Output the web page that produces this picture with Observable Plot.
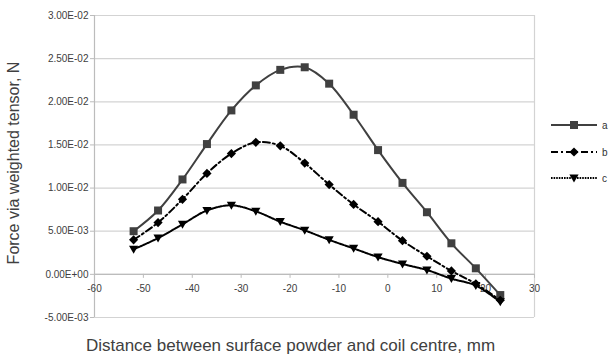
<!DOCTYPE html>
<html><head><meta charset="utf-8">
<script src="https://cdn.jsdelivr.net/npm/d3@7"></script>
<script src="https://cdn.jsdelivr.net/npm/@observablehq/plot@0.6"></script>
<style>
html,body{margin:0;padding:0;background:#fff;}
#chart{position:relative;width:612px;height:358px;font-family:"Liberation Sans",Arial,sans-serif;}
#legend{position:absolute;left:0;top:0;}
</style></head><body><div id="chart"></div>
<script>
const xValues = [-52,-47,-42,-37,-32,-27,-22,-17,-12,-7,-2,3,8,13,18,23];
const seriesA = [5.0e-3,7.4e-3,1.10e-2,1.51e-2,1.90e-2,2.19e-2,2.37e-2,2.40e-2,2.21e-2,1.85e-2,1.44e-2,1.06e-2,7.2e-3,3.6e-3,7e-4,-2.4e-3];
const seriesB = [4.0e-3,6.0e-3,8.7e-3,1.17e-2,1.40e-2,1.53e-2,1.49e-2,1.29e-2,1.04e-2,8.1e-3,6.1e-3,3.9e-3,2.1e-3,4e-4,-1.1e-3,-3.0e-3];
const seriesC = [2.9e-3,4.2e-3,5.8e-3,7.4e-3,8.0e-3,7.3e-3,6.1e-3,5.1e-3,4.0e-3,3.0e-3,2.0e-3,1.2e-3,5e-4,-5e-4,-1.3e-3,-3.2e-3];
const seriesNames = ["a","b","c"];
const xTicks = [-60,-50,-40,-30,-20,-10,0,10,20,30];
const yTicks = [-0.005,0,0.005,0.01,0.015,0.02,0.025,0.03];
const yTickLabels = ["-5.00E-03","0.00E+00","5.00E-03","1.00E-02","1.50E-02","2.00E-02","2.50E-02","3.00E-02"];
const xLabel = "Distance between surface powder and coil centre, mm";
const yLabel = "Force via weighted tensor, N";

const squareSym = {draw(c){ c.rect(-4,-4,8,8); }};
const diamondSym = {draw(c){ c.moveTo(0,-4.6); c.lineTo(4.6,0); c.lineTo(0,4.6); c.lineTo(-4.6,0); c.closePath(); }};
const triDownSym = {draw(c){ c.moveTo(-4.6,-3.6); c.lineTo(4.6,-3.6); c.lineTo(0,4.4); c.closePath(); }};

const styles = {
  a: {stroke:"#404040", dash:null, width:2, symbol:squareSym, fill:"#404040"},
  b: {stroke:"#000", dash:"7,3,2,3", width:2, symbol:diamondSym, fill:"#000"},
  c: {stroke:"#000", dash:"1.6,1", width:2, symbol:triDownSym, fill:"#000"}
};
const allSeries = [seriesA, seriesB, seriesC];
const rows = seriesNames.flatMap((s, k) => xValues.map((x, i) => ({series: s, x, y: allSeries[k][i]})));

const gridColor = "#d3d3d3";
const axisColor = "#bcbcbc";
const marks = [
  Plot.ruleY(yTicks, {stroke: gridColor, strokeWidth: 1.2}),
  Plot.ruleX([xTicks[xTicks.length-1]], {stroke: gridColor, strokeWidth: 1.2}),
  Plot.ruleX([xTicks[0]], {stroke: axisColor, strokeWidth: 1.2}),
  Plot.ruleY([0], {stroke: axisColor, strokeWidth: 1.2}),
  Plot.ruleX(xTicks, {y1: 0, y2: 0, insetBottom: -4, stroke: axisColor}),
  Plot.text(xTicks, {x: d => d, y: 0, text: d => String(d), dy: 14, fontSize: 10, fill: "#404040"}),
  Plot.axisY({ticks: yTicks, tickFormat: d => yTickLabels[yTicks.indexOf(d)], tickSize: 4, tickPadding: 2, fontSize: 10, stroke: axisColor, fill: "#404040", label: null}),
  Plot.axisX({ticks: [], label: null, tickSize: 0}),
];
for (const s of seriesNames) {
  const st = styles[s];
  const data = rows.filter(d => d.series === s);
  marks.push(Plot.line(data, {x: "x", y: "y", curve: "catmull-rom", stroke: st.stroke, strokeWidth: st.width, strokeDasharray: st.dash}));
}
for (const s of seriesNames) {
  const st = styles[s];
  const data = rows.filter(d => d.series === s);
  marks.push(Plot.dot(data, {x: "x", y: "y", symbol: st.symbol, fill: st.fill, stroke: "none", r: 4}));
}
marks.push(Plot.text([yLabel], {frameAnchor: "left", textAnchor: "middle", text: d => d, rotate: -90, dx: -81, dy: -3.5, fontSize: 16, fill: "#404040"}));
marks.push(Plot.text([xLabel], {frameAnchor: "bottom", text: d => d, dx: -24, dy: 28, lineAnchor: "middle", fontSize: 17, fill: "#404040"}));

const chart = Plot.plot({
  width: 612, height: 358,
  marginLeft: 94, marginRight: 78, marginTop: 15, marginBottom: 41,
  style: {fontFamily: '"Liberation Sans", Arial, sans-serif', background: "#fff"},
  x: {domain: [xTicks[0], xTicks[xTicks.length-1]]},
  y: {domain: [yTicks[0], yTicks[yTicks.length-1]]},
  marks
});
const root = document.getElementById("chart");
root.appendChild(chart);

// Legend
const lg = d3.select(root).append("svg").attr("id","legend").attr("width",612).attr("height",358);
const legendY = {a:125, b:152, c:178};
seriesNames.forEach(s => {
  const st = styles[s];
  const y = legendY[s];
  lg.append("line").attr("x1",551).attr("x2",597).attr("y1",y).attr("y2",y)
    .attr("stroke",st.stroke).attr("stroke-width",st.width).attr("stroke-dasharray",st.dash);
  const p = d3.path(); st.symbol.draw(p);
  lg.append("path").attr("d",p.toString()).attr("transform",`translate(574,${y})`).attr("fill",st.fill);
  lg.append("text").attr("x",602).attr("y",y).attr("dy","0.35em").attr("font-size",10)
    .attr("fill","#333").attr("font-family",'"Liberation Sans", Arial, sans-serif').text(s);
});
</script></body></html>
